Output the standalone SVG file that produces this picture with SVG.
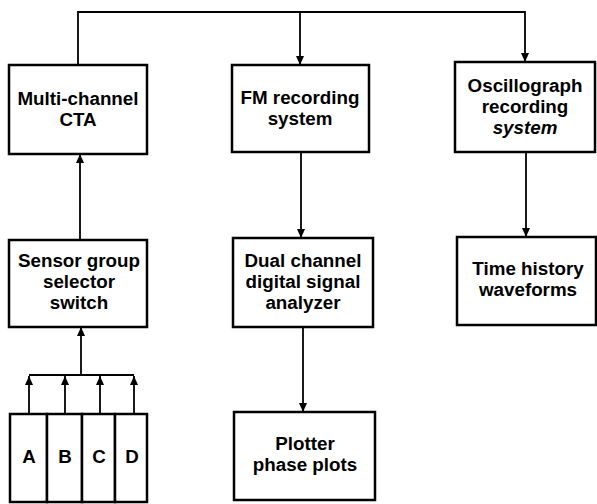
<svg xmlns="http://www.w3.org/2000/svg" width="597" height="504" viewBox="0 0 597 504">
<style>
.box{fill:#fff;stroke:#000;stroke-width:2.5}
.t{font-family:"Liberation Sans",Arial,Helvetica,sans-serif;font-size:18.8px;font-weight:bold;fill:#000;text-anchor:middle}
.i{font-style:italic}
.c{fill:none;stroke:#000;stroke-width:1.8}
</style>
<defs>
<marker id="ah" markerUnits="userSpaceOnUse" markerWidth="9" markerHeight="8" refX="9" refY="4" orient="auto">
<path d="M0,0 L9,4 L0,8 z" fill="#000"/>
</marker>
</defs>
<rect width="597" height="504" fill="#fff"/>
<g id="connectors">
<path class="c" d="M78,65 V12 H525 V62" marker-end="url(#ah)"/>
<path class="c" d="M300,12 V65" marker-end="url(#ah)"/>
<path class="c" d="M80,240 V154" marker-end="url(#ah)"/>
<path class="c" d="M29,375 H134"/>
<path class="c" d="M81,375 V327" marker-end="url(#ah)"/>
<path class="c" d="M29,414 V376" marker-end="url(#ah)"/>
<path class="c" d="M65,414 V376" marker-end="url(#ah)"/>
<path class="c" d="M100,414 V376" marker-end="url(#ah)"/>
<path class="c" d="M134,414 V376" marker-end="url(#ah)"/>
<path class="c" d="M301,152 V238" marker-end="url(#ah)"/>
<path class="c" d="M303,327 V412" marker-end="url(#ah)"/>
<path class="c" d="M526,152 V237" marker-end="url(#ah)"/>
</g>
<g id="cta">
<rect class="box" x="9" y="65" width="138" height="89"/>
<text class="t" x="78" y="105">Multi-channel</text>
<text class="t" x="78" y="126">CTA</text>
</g>
<g id="fm">
<rect class="box" x="232" y="65" width="137" height="87"/>
<text class="t" x="300" y="104">FM recording</text>
<text class="t" x="300" y="125">system</text>
</g>
<g id="osc">
<rect class="box" x="455" y="62" width="140" height="90"/>
<text class="t" x="525" y="92">Oscillograph</text>
<text class="t" x="525" y="113">recording</text>
<text class="t i" x="525" y="134">system</text>
</g>
<g id="sensor">
<rect class="box" x="9" y="240" width="138" height="87"/>
<text class="t" x="79" y="267">Sensor group</text>
<text class="t" x="79" y="288">selector</text>
<text class="t" x="79" y="309">switch</text>
</g>
<g id="dual">
<rect class="box" x="233" y="238" width="140" height="89"/>
<text class="t" x="303" y="267">Dual channel</text>
<text class="t" x="303" y="288">digital signal</text>
<text class="t" x="303" y="309">analyzer</text>
</g>
<g id="time">
<rect class="box" x="457" y="237" width="139" height="88"/>
<text class="t" x="528" y="275">Time history</text>
<text class="t" x="528" y="296">waveforms</text>
</g>
<g id="plotter">
<rect class="box" x="234" y="412" width="141" height="88"/>
<text class="t" x="305" y="450">Plotter</text>
<text class="t" x="305" y="471">phase plots</text>
</g>
<g id="sensorA">
<rect class="box" x="10" y="414" width="37" height="88"/>
<text class="t" x="29" y="463">A</text>
</g>
<g id="sensorB">
<rect class="box" x="47" y="414" width="35" height="88"/>
<text class="t" x="65" y="463">B</text>
</g>
<g id="sensorC">
<rect class="box" x="82" y="414" width="33" height="88"/>
<text class="t" x="99" y="463">C</text>
</g>
<g id="sensorD">
<rect class="box" x="115" y="414" width="32" height="88"/>
<text class="t" x="132" y="463">D</text>
</g>
</svg>
